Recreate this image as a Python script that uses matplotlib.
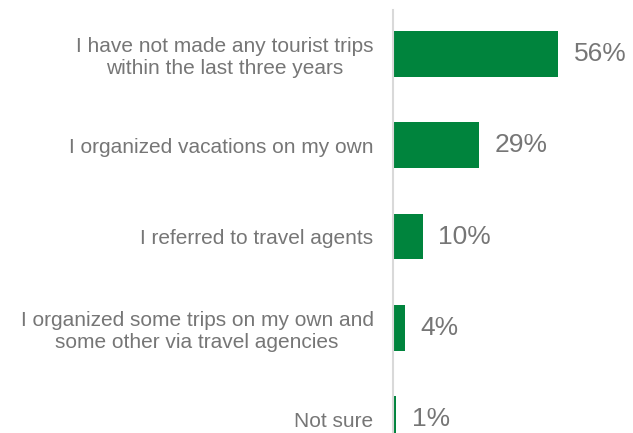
import matplotlib.pyplot as plt

plt.rcParams['font.family'] = ['Liberation Sans', 'DejaVu Sans']

answers = [
    'I have not made any tourist trips\nwithin the last three years',
    'I organized vacations on my own',
    'I referred to travel agents',
    'I organized some trips on my own and\nsome other via travel agencies',
    'Not sure',
]
shares = [56, 29, 10, 4, 1]

green = '#00843D'
grey = '#767676'

fig = plt.figure(figsize=(6.33, 4.33), dpi=100)
ax = fig.add_axes([393 / 633, 0, 1 - 393 / 633, 423 / 433])

pos = list(range(len(answers)))
ax.barh(pos, shares, height=0.5, color=green)
ax.set_xlim(0, 81.3)
ax.set_ylim(4.15, -0.48)

for y, v in zip(pos, shares):
    ax.text(v + 5.4, y, f'{v}%', va='center', ha='left', fontsize=19, color=grey)

ax.set_yticks(pos)
ax.set_yticklabels(answers, fontsize=15, color=grey, multialignment='center',
                   linespacing=1.2)
ax.tick_params(axis='y', length=0, pad=14)
ax.set_xticks([])

for side in ['top', 'right', 'bottom']:
    ax.spines[side].set_visible(False)
ax.spines['left'].set_color('#D9D9D9')
ax.spines['left'].set_linewidth(1.5)

fig.savefig('out.png', dpi=100)
